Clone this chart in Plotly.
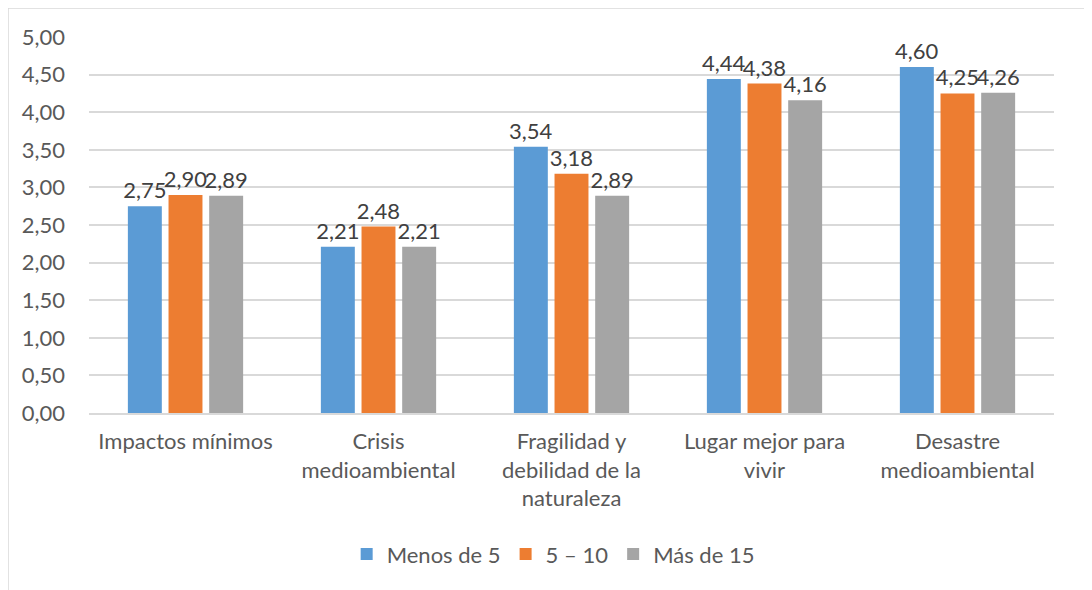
import plotly.graph_objects as go

categories = ["Impactos mínimos", "Crisis<br>medioambiental",
              "Fragilidad y<br>debilidad de la<br>naturaleza",
              "Lugar mejor para<br>vivir", "Desastre<br>medioambiental"]
series_names = ["Menos de 5", "5 – 10", "Más de 15"]
menos_5 = [2.75, 2.21, 3.54, 4.44, 4.60]
de_5_10 = [2.90, 2.48, 3.18, 4.38, 4.25]
mas_15 = [2.89, 2.21, 2.89, 4.16, 4.26]
colors = ["#5B9BD5", "#ED7D31", "#A5A5A5"]
yticks = [0, 0.5, 1, 1.5, 2, 2.5, 3, 3.5, 4, 4.5, 5]

FONT = "Lato"
TXT = "#595959"

fig = go.Figure()
for name, vals, col in zip(series_names, [menos_5, de_5_10, mas_15], colors):
    fig.add_trace(go.Bar(
        x=categories, y=vals, name=name, marker_color=col,
        marker_line_width=0,
        text=vals, texttemplate="%{y:.2f}", textposition="outside",
        constraintext="none", cliponaxis=False,
        textfont=dict(family=FONT, size=22, color="#404040"),
    ))

fig.update_layout(
    width=1084, height=582,
    barmode="group", bargap=0.368, bargroupgap=0.165,
    separators=", ",
    paper_bgcolor="white", plot_bgcolor="white",
    margin=dict(l=81, r=38, t=29, b=177, autoexpand=False),
    font=dict(family=FONT, size=22, color=TXT),
    showlegend=True,
    legend=dict(orientation="h", x=0.481, xanchor="center", xref="paper",
                y=-0.32, yanchor="top", font=dict(family=FONT, size=22, color=TXT),
                itemwidth=30, traceorder="normal"),
    xaxis=dict(showgrid=False, showline=True, linecolor="#D9D9D9", linewidth=1.5,
               ticks="", automargin=False, ticklabelstandoff=8,
               tickfont=dict(family=FONT, size=22, color=TXT)),
    yaxis=dict(range=[0, 5], tickvals=yticks, tickformat=".2f",
               showgrid=True, gridcolor="#D9D9D9", gridwidth=1.5,
               zeroline=False, showline=False, ticks="", automargin=False,
               ticklabelstandoff=23,
               tickfont=dict(family=FONT, size=22, color=TXT)),
    shapes=[dict(type="rect", xref="paper", yref="paper",
                 x0=-81/965, x1=1.2, y0=-1.0, y1=1 + 29/376,
                 line=dict(color="#D9D9D9", width=1.5), layer="below")],
)

fig.write_html("out.html")
